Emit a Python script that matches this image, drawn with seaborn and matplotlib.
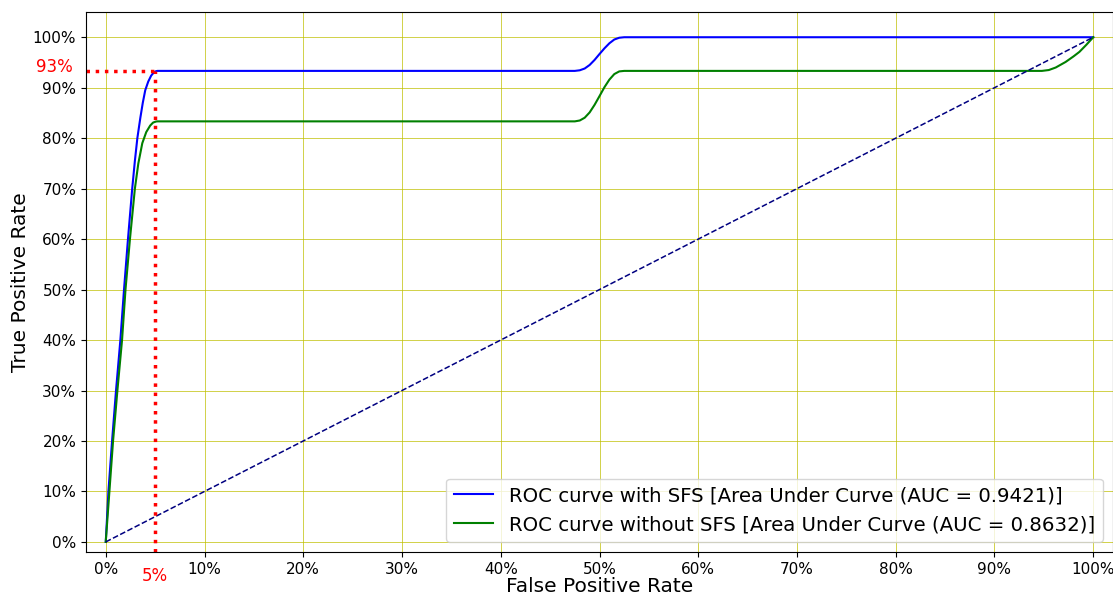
import numpy as np
import pandas as pd
import seaborn as sns
from matplotlib import pyplot as plt

# ROC curve points (FPR, TPR)
fpr_sfs = [0.0, 0.0027, 0.0064, 0.0104, 0.0148, 0.0185, 0.0225, 0.0268, 0.0295, 0.032, 0.035, 0.0375,
           0.040, 0.043, 0.046, 0.049, 0.051, 0.0525,
           0.475, 0.48, 0.485, 0.49, 0.495, 0.50, 0.505, 0.51, 0.515, 0.52, 0.525, 1.0]
tpr_sfs = [0.0, 0.10, 0.20, 0.30, 0.40, 0.50, 0.60, 0.70, 0.755, 0.80, 0.84, 0.87,
           0.895, 0.912, 0.924, 0.931, 0.9328, 0.9333,
           0.9333, 0.9345, 0.938, 0.945, 0.955, 0.9667, 0.978, 0.988, 0.9955, 0.999, 1.0, 1.0]

fpr_no_sfs = [0.0, 0.0037, 0.0074, 0.0118, 0.0165, 0.020, 0.0245, 0.0295, 0.033, 0.037, 0.041, 0.045,
              0.048, 0.051, 0.0525,
              0.475, 0.48, 0.485, 0.49, 0.495, 0.50, 0.505, 0.51, 0.515, 0.52, 0.525,
              0.948, 0.955, 0.962, 0.972, 0.980, 0.986, 0.993, 1.0]
tpr_no_sfs = [0.0, 0.10, 0.20, 0.30, 0.40, 0.50, 0.60, 0.70, 0.75, 0.79, 0.812, 0.825,
              0.831, 0.8330, 0.8333,
              0.8333, 0.8350, 0.8405, 0.851, 0.866, 0.8833, 0.901, 0.916, 0.927, 0.9323, 0.9333,
              0.9333, 0.935, 0.940, 0.951, 0.962, 0.971, 0.985, 1.0]

auc_sfs = 0.9421
auc_no_sfs = 0.8632
marked_fpr = 0.05
marked_tpr = 0.9333

df_sfs = pd.DataFrame({"fpr": fpr_sfs, "tpr": tpr_sfs})
df_no = pd.DataFrame({"fpr": fpr_no_sfs, "tpr": tpr_no_sfs})

fig = plt.figure(figsize=(11.13, 5.96), dpi=100)
ax = fig.add_axes([86 / 1113, 44 / 596, 1 - 86 / 1113, 540 / 596])

sns.lineplot(data=df_sfs, x="fpr", y="tpr", sort=False, estimator=None, color="blue", lw=1.5,
             label=f"ROC curve with SFS [Area Under Curve (AUC = {auc_sfs})]", ax=ax)
sns.lineplot(data=df_no, x="fpr", y="tpr", sort=False, estimator=None, color="green", lw=1.5,
             label=f"ROC curve without SFS [Area Under Curve (AUC = {auc_no_sfs})]", ax=ax)
ax.plot([0, 1], [0, 1], color="navy", lw=1.1, linestyle="--")

ax.plot([-0.02, marked_fpr], [marked_tpr, marked_tpr], color="red", lw=2.5, linestyle=":")
ax.plot([marked_fpr, marked_fpr], [-0.02, marked_tpr], color="red", lw=2.5, linestyle=":")

ax.set_xlim(-0.02, 1.02)
ax.set_ylim(-0.02, 1.05)
ticks = np.linspace(0, 1, 11)
ax.set_xticks(ticks)
ax.set_yticks(ticks)
ax.set_xticklabels([f"{int(round(t * 100))}%" for t in ticks], fontsize=11)
ax.set_yticklabels([f"{int(round(t * 100))}%" for t in ticks], fontsize=11)
ax.grid(color="y", linewidth=0.5)

ax.text(-0.033, marked_tpr + 0.008, "93%", color="red", fontsize=12, ha="right", va="center")
ax.text(marked_fpr, -0.068, "5%", color="red", fontsize=12, ha="center", va="center")

ax.set_xlabel("False Positive Rate", fontsize=14.5, labelpad=0)
ax.set_ylabel("True Positive Rate", fontsize=14.5, labelpad=2)
ax.legend(loc="lower right", fontsize=14.2)

fig.savefig("out.png", dpi=100)
